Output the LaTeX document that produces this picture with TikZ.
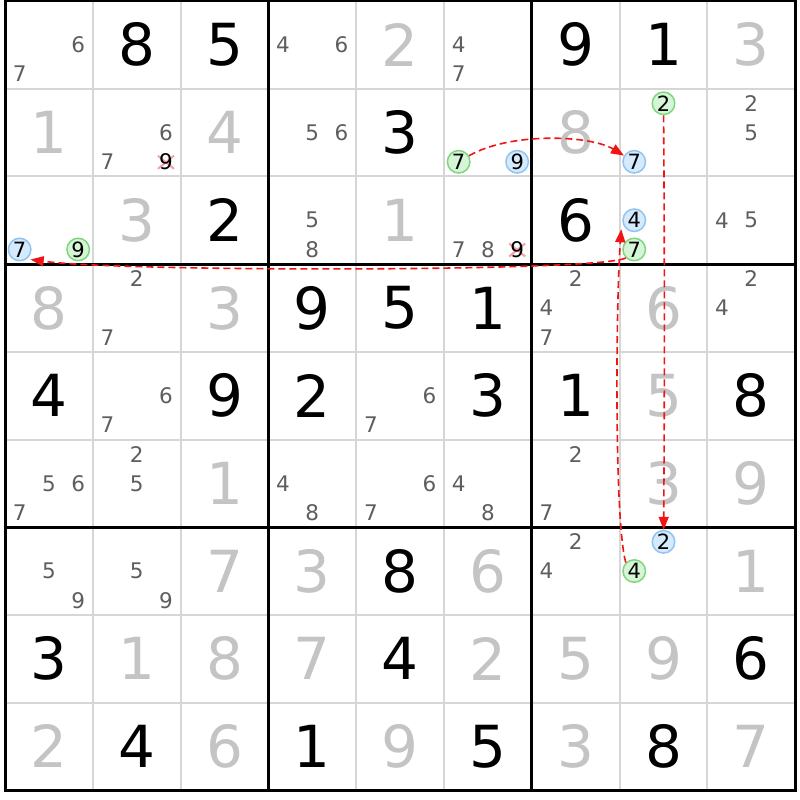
\documentclass[tikz,border=0pt]{standalone}
\usepackage{fontspec}
\setmainfont{DejaVu Sans}
\usetikzlibrary{arrows.meta,calc}
\definecolor{candc}{HTML}{5E5E5E}
\definecolor{solvc}{HTML}{C4C4C4}
\definecolor{thinc}{HTML}{D6D6D6}
\definecolor{gfill}{HTML}{D6F5D6}
\definecolor{gline}{HTML}{80D680}
\definecolor{bfill}{HTML}{D6EAFD}
\definecolor{bline}{HTML}{90C4F3}
\definecolor{xcol}{HTML}{F4A0A8}
\definecolor{arrc}{HTML}{F01414}
\newcommand\GivenD[3]{\node[givend] (n#1#2) at ({5+87.8*(#2-0.5)},{1+87.7*(#1-0.5)}) {#3};}
\newcommand\PaleD[3]{\node[paled] (n#1#2) at ({5+87.8*(#2-0.5)},{1+87.7*(#1-0.5)}) {#3};}
\newcommand\CandL[3]{\foreach \d in {#3}{%
  \pgfmathtruncatemacro\ccol{mod(\d-1,3)}\pgfmathtruncatemacro\crow{(\d-1)/3}%
  \node[candd] (k#1#2\d) at ({5+87.8*(#2-1)+29.27*(\ccol+0.5)},{1+87.7*(#1-1)+29.23*(\crow+0.5)}) {\d};}}
\newcommand\RingC[5]{%
  \pgfmathtruncatemacro\ccol{mod(#3-1,3)}\pgfmathtruncatemacro\crow{(#3-1)/3}%
  \node[#4] (#5) at ({5+87.8*(#2-1)+29.27*(\ccol+0.5)},{1+87.7*(#1-1)+29.23*(\crow+0.5)}) {#3};}
\newcommand\ElimC[3]{%
  \pgfmathtruncatemacro\ccol{mod(#3-1,3)}\pgfmathtruncatemacro\crow{(#3-1)/3}%
  \coordinate (e#1#2) at ({5+87.8*(#2-1)+29.27*(\ccol+0.5)},{1+87.7*(#1-1)+29.23*(\crow+0.5)});
  \draw[xmark] ($(e#1#2)+(-8,-6)$) -- ($(e#1#2)+(8,7)$);
  \draw[xmark] ($(e#1#2)+(-8,7)$) -- ($(e#1#2)+(8,-6)$);
  \node[candd,text=black] (x#1#2) at (e#1#2) {#3};}
\begin{document}
\begin{tikzpicture}[x=1pt,y=-1pt,
  givend/.style={font=\fontsize{58}{58}\selectfont, inner sep=0pt, text=black},
  paled/.style={givend, text=solvc},
  candd/.style={font=\fontsize{21.5}{21.5}\selectfont, inner sep=0pt, text=candc},
  ringd/.style={circle, line width=1.5pt, minimum size=22.5pt, inner sep=0pt, font=\fontsize{21}{21}\selectfont, text=black},
  grn/.style={ringd, fill=gfill, draw=gline},
  blu/.style={ringd, fill=bfill, draw=bline},
  xmark/.style={draw=xcol, line width=2pt},
  thinl/.style={draw=thinc, line width=2pt},
  thickl/.style={draw=black, line width=3pt},
  link/.style={draw=arrc, line width=1.6pt, dash pattern=on 7pt off 4pt, -{Triangle[length=13pt,width=10pt]}},
]
\useasboundingbox (0,0) rectangle (800,800);
\fill[white] (0,0) rectangle (800,800);
% grid
\foreach \i in {1,2,4,5,7,8}{
  \draw[thinl] ({5+87.8*\i},1) -- ({5+87.8*\i},790.3);
  \draw[thinl] (5,{1+87.7*\i}) -- (795.2,{1+87.7*\i});
}
\foreach \i in {0,3,6,9}{
  \draw[thickl] ({5+87.8*\i},-0.5) -- ({5+87.8*\i},791.8);
  \draw[thickl] (3.5,{1+87.7*\i}) -- (796.7,{1+87.7*\i});
}
% row 1
\GivenD{1}{2}{8}\GivenD{1}{3}{5}\GivenD{1}{7}{9}\GivenD{1}{8}{1}
\PaleD{1}{5}{2}\PaleD{1}{9}{3}
\CandL{1}{1}{6,7}\CandL{1}{4}{4,6}\CandL{1}{6}{4,7}
% row 2
\GivenD{2}{5}{3}
\PaleD{2}{1}{1}\PaleD{2}{3}{4}\PaleD{2}{7}{8}
\CandL{2}{2}{6,7}\ElimC{2}{2}{9}
\CandL{2}{4}{5,6}\CandL{2}{9}{2,5}
\RingC{2}{6}{7}{grn}{g267}\RingC{2}{6}{9}{blu}{b269}
\RingC{2}{8}{2}{grn}{g282}\RingC{2}{8}{7}{blu}{b287}
% row 3
\GivenD{3}{3}{2}\GivenD{3}{7}{6}
\PaleD{3}{2}{3}\PaleD{3}{5}{1}
\RingC{3}{1}{7}{blu}{b317}\RingC{3}{1}{9}{grn}{g319}
\CandL{3}{4}{5,8}\CandL{3}{6}{7,8}\ElimC{3}{6}{9}
\RingC{3}{8}{4}{blu}{b384}\RingC{3}{8}{7}{grn}{g387}
\CandL{3}{9}{4,5}
% row 4
\GivenD{4}{4}{9}\GivenD{4}{5}{5}\GivenD{4}{6}{1}
\PaleD{4}{1}{8}\PaleD{4}{3}{3}\PaleD{4}{8}{6}
\CandL{4}{2}{2,7}\CandL{4}{7}{2,4,7}\CandL{4}{9}{2,4}
% row 5
\GivenD{5}{1}{4}\GivenD{5}{3}{9}\GivenD{5}{4}{2}\GivenD{5}{6}{3}\GivenD{5}{7}{1}\GivenD{5}{9}{8}
\PaleD{5}{8}{5}
\CandL{5}{2}{6,7}\CandL{5}{5}{6,7}
% row 6
\PaleD{6}{3}{1}\PaleD{6}{8}{3}\PaleD{6}{9}{9}
\CandL{6}{1}{5,6,7}\CandL{6}{2}{2,5}\CandL{6}{4}{4,8}\CandL{6}{5}{6,7}\CandL{6}{6}{4,8}\CandL{6}{7}{2,7}
% row 7
\GivenD{7}{5}{8}
\PaleD{7}{3}{7}\PaleD{7}{4}{3}\PaleD{7}{6}{6}\PaleD{7}{9}{1}
\CandL{7}{1}{5,9}\CandL{7}{2}{5,9}\CandL{7}{7}{2,4}
\RingC{7}{8}{2}{blu}{b782}\RingC{7}{8}{4}{grn}{g784}
% row 8
\GivenD{8}{1}{3}\GivenD{8}{5}{4}\GivenD{8}{9}{6}
\PaleD{8}{2}{1}\PaleD{8}{3}{8}\PaleD{8}{4}{7}\PaleD{8}{6}{2}\PaleD{8}{7}{5}\PaleD{8}{8}{9}
% row 9
\GivenD{9}{2}{4}\GivenD{9}{4}{1}\GivenD{9}{6}{5}\GivenD{9}{8}{8}
\PaleD{9}{1}{2}\PaleD{9}{3}{6}\PaleD{9}{5}{9}\PaleD{9}{7}{3}\PaleD{9}{9}{7}
% links
\coordinate (t384) at ($(b384)+(-13,9)$);
\coordinate (t317) at ($(b317)+(11,10)$);
\draw[link] (g267) .. controls (510,132) and (590,135) .. (b287);
\draw[link] (g282) .. controls (664.6,250) and (664.6,400) .. (b782);
\draw[link] (g784.north west) .. controls (614,520) and (616,300) .. (t384);
\draw[link] (g387.south west) .. controls (600,272) and (120,272) .. (t317);
\end{tikzpicture}
\end{document}
